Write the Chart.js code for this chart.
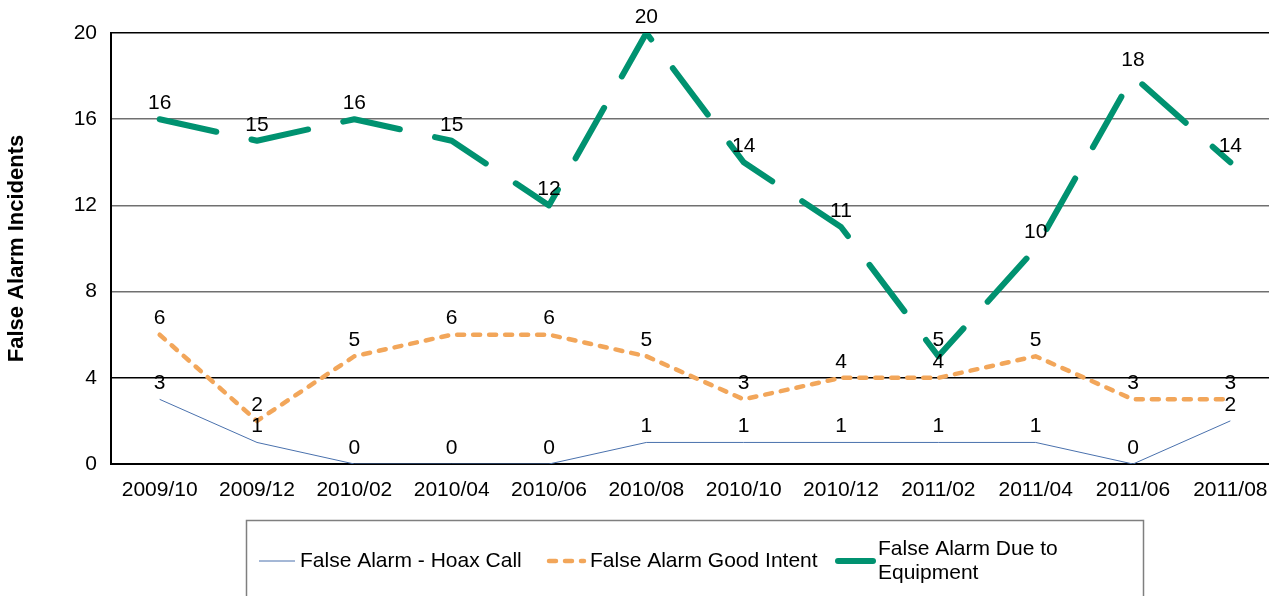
<!DOCTYPE html>
<html>
<head>
<meta charset="utf-8">
<script src="https://cdn.jsdelivr.net/npm/chart.js@4"></script>
<style>
  html, body { margin: 0; padding: 0; background: #fff; overflow: hidden; }
  #wrap { width: 1290px; height: 596px; }
</style>
</head>
<body>
<div id="wrap"><canvas id="chart" width="1290" height="596"></canvas></div>
<script>
const months = ['2009/10', '2009/12', '2010/02', '2010/04', '2010/06', '2010/08',
                '2010/10', '2010/12', '2011/02', '2011/04', '2011/06', '2011/08'];
const hoaxCall   = [3, 1, 0, 0, 0, 1, 1, 1, 1, 1, 0, 2];
const goodIntent = [6, 2, 5, 6, 6, 5, 3, 4, 4, 5, 3, 3];
const equipment  = [16, 15, 16, 15, 12, 20, 14, 11, 5, 10, 18, 14];
const yTicks = [0, 4, 8, 12, 16, 20];

const FONT = "'Liberation Sans', Arial, sans-serif";

// value labels above every point
const valueLabels = {
    id: 'valueLabels',
    afterDatasetsDraw(chart) {
        const ctx = chart.ctx;
        ctx.save();
        ctx.font = '21px ' + FONT;
        ctx.fillStyle = '#000';
        ctx.textAlign = 'center';
        ctx.textBaseline = 'middle';
        chart.data.datasets.forEach((ds, i) => {
            chart.getDatasetMeta(i).data.forEach((pt, j) => {
                ctx.fillText(String(ds.data[j]), pt.x, pt.y - 16);
            });
        });
        ctx.restore();
    }
};

// boxed legend at the bottom, like the original
const boxLegend = {
    id: 'boxLegend',
    afterDraw(chart) {
        const ctx = chart.ctx;
        const ds = chart.data.datasets;
        ctx.save();
        ctx.strokeStyle = '#7f7f7f';
        ctx.lineWidth = 1.5;
        ctx.strokeRect(246.5, 520.5, 897, 100);

        const cy = 561;
        const items = [
            { x0: 259, x1: 295, tx: 300, lines: [ds[0].label] },
            { x0: 549, x1: 584, tx: 590, lines: [ds[1].label] },
            { x0: 838, x1: 873, tx: 878, lines: ['False Alarm Due to', 'Equipment'] }
        ];
        items.forEach((it, i) => {
            ctx.beginPath();
            ctx.strokeStyle = ds[i].borderColor;
            ctx.lineWidth = ds[i].borderWidth;
            ctx.lineCap = ds[i].borderCapStyle || 'butt';
            ctx.setLineDash(ds[i].borderDash || []);
            ctx.moveTo(it.x0, cy);
            ctx.lineTo(it.x1, cy);
            ctx.stroke();
            ctx.setLineDash([]);
            ctx.fillStyle = '#000';
            ctx.font = '21px ' + FONT;
            ctx.textAlign = 'left';
            ctx.textBaseline = 'middle';
            if (it.lines.length === 1) {
                ctx.fillText(it.lines[0], it.tx, cy);
            } else {
                ctx.fillText(it.lines[0], it.tx, cy - 12);
                ctx.fillText(it.lines[1], it.tx, cy + 12);
            }
        });
        ctx.restore();
    }
};

new Chart(document.getElementById('chart'), {
    type: 'line',
    data: {
        labels: months,
        datasets: [
            {
                label: 'False Alarm - Hoax Call',
                data: hoaxCall,
                borderColor: '#4a71ad',
                borderWidth: 1,
                pointRadius: 0,
                tension: 0
            },
            {
                label: 'False Alarm Good Intent',
                data: goodIntent,
                borderColor: '#f2a65a',
                borderWidth: 4.5,
                borderDash: [7, 9],
                borderCapStyle: 'round',
                pointRadius: 0,
                tension: 0
            },
            {
                label: 'False Alarm Due to Equipment',
                data: equipment,
                borderColor: '#009270',
                borderWidth: 6,
                borderDash: [58, 36],
                borderCapStyle: 'round',
                borderJoinStyle: 'round',
                pointRadius: 0,
                tension: 0
            }
        ]
    },
    options: {
        responsive: false,
        animation: false,
        layout: { padding: { top: 33, right: 11, left: 0, bottom: 0 } },
        plugins: {
            legend: { display: false },
            tooltip: { enabled: false }
        },
        scales: {
            x: {
                offset: true,
                grid: { display: false, drawTicks: false },
                border: { display: true, color: '#000', width: 2 },
                ticks: { color: '#000', font: { family: FONT, size: 21 }, padding: 14, maxRotation: 0 },
                afterFit: s => { s.height = 132; }
            },
            y: {
                min: 0,
                max: 20,
                afterBuildTicks: s => { s.ticks = yTicks.map(v => ({ value: v })); },
                grid: {
                    drawTicks: false,
                    color: c => (c.tick && (c.tick.value === 20 || c.tick.value === 4 || c.tick.value === 0)) ? '#000' : '#707070',
                    lineWidth: 1.5
                },
                border: { display: true, color: '#000', width: 2 },
                ticks: { color: '#000', font: { family: FONT, size: 21 }, padding: 14 },
                title: {
                    display: true,
                    text: 'False Alarm Incidents',
                    color: '#000',
                    font: { family: FONT, size: 22, weight: 'bold' },
                    padding: { top: 4, bottom: 0 }
                },
                afterFit: s => { s.width = 111; }
            }
        }
    },
    plugins: [valueLabels, boxLegend]
});
</script>
</body>
</html>
